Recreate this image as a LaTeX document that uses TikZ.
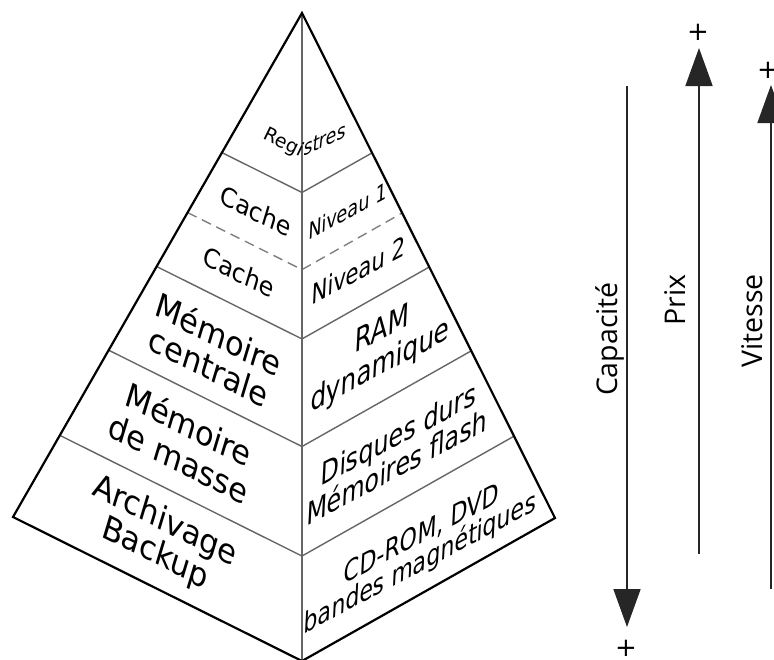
\documentclass[tikz,border=0pt]{standalone}
\usepackage{fontspec}
\setmainfont{DejaVu Sans}
\newfontfamily\osans{Open Sans}
\usetikzlibrary{calc,arrows.meta}
\begin{document}
\begin{tikzpicture}[x=1pt,y=1pt,
  edge/.style={line width=2.2pt, black, line join=miter},
  innerline/.style={line width=1.4pt, black!60},
  dashline/.style={line width=1.4pt, black!50, dash pattern=on 10pt off 6pt},
  lface/.style={rotate=-27, xslant=-0.18, inner sep=0pt, align=center},
  rface/.style={rotate=28, xslant=0.6, inner sep=0pt, align=center},
  axisline/.style={line width=1.8pt, black!85},
  headtip/.style={-{Triangle[length=38pt,width=27pt]}},
  axlabel/.style={rotate=90, anchor=base, inner sep=0pt, font=\osans\fontsize{28.5}{30}\selectfont},
  plussign/.style={font=\fontsize{26}{26}\selectfont, inner sep=0pt}
]
\useasboundingbox (0,0) rectangle (774,-659);
\fill[white] (0,0) rectangle (774,-659);

% pyramid corners
\coordinate (A) at (302,-13);
\coordinate (L) at (13,-517);
\coordinate (R) at (555,-518);
\coordinate (B) at (302,-661);

% boundaries
\foreach \t/\n in {0.277/1, 0.503/3, 0.669/4, 0.838/5}{
  \coordinate (l\n) at ($(A)!\t!(L)$);
  \coordinate (m\n) at ($(A)!\t!(B)$);
  \coordinate (r\n) at ($(A)!\t!(R)$);
  \draw[innerline] (l\n) -- (m\n) -- (r\n);
}
\coordinate (l2) at ($(A)!0.396!(L)$);
\coordinate (m2) at ($(A)!0.396!(B)$);
\coordinate (r2) at ($(A)!0.396!(R)$);
\draw[dashline] (l2) -- (m2) -- (r2);
\draw[innerline] (A) -- (B);
\draw[edge] (A) -- (L) -- (B) -- (R) -- cycle;

% left face
\node[rotate=-26, anchor=base east, inner sep=0pt, font=\fontsize{19}{20}\selectfont] (reg1) at (300,-157) {Regi};
\node[lface, font=\fontsize{25}{27}\selectfont] (cache1) at (256,-211) {Cache};
\node[lface, font=\fontsize{25}{27}\selectfont] (cache2) at (239,-272) {Cache};
\node[lface, font=\fontsize{32}{33}\selectfont] (memc) at (214,-350) {Mémoire\\centrale};
\node[lface, font=\fontsize{32}{35}\selectfont] (memm) at (184,-441) {Mémoire\\de masse};
\node[lface, font=\fontsize{32}{33}\selectfont] (arch) at (160,-538) {Archivage\\Backup};

% right face
\node[rotate=25, xslant=0.6, anchor=base west, inner sep=0pt, font=\fontsize{19}{20}\selectfont] (reg2) at (303,-157) {stres};
\node[rface, font=\fontsize{20}{22}\selectfont] (niv1) at (348,-211) {Niveau 1};
\node[rface, font=\fontsize{24}{26}\selectfont] (niv2) at (359,-270) {Niveau 2};
\node[rface, font=\fontsize{28}{31}\selectfont] (ram) at (381,-349) {RAM\\dynamique};
\node[rface, font=\fontsize{27}{26}\selectfont] (disq) at (398,-450) {Disques durs\\Mémoires flash};
\node[rface, font=\fontsize{25}{25}\selectfont] (cdrom) at (421,-550) {CD-ROM, DVD\\bandes magnétiques};

% axes
\coordinate (capT) at (627,-86);
\coordinate (capB) at (627,-627);
\coordinate (prixB) at (699,-554);
\coordinate (prixT) at (699,-48);
\coordinate (vitB) at (771,-589);
\coordinate (vitT) at (771,-85);
\draw[axisline, headtip] (capT) -- (capB);
\draw[axisline, headtip] (prixB) -- (prixT);
\draw[axisline, headtip] (vitB) -- (vitT);

\node[axlabel] (cap) at (617,-339) {Capacité};
\node[axlabel] (prix) at (685,-300) {Prix};
\node[axlabel] (vit) at (762,-321) {Vitesse};

\node[plussign] (pcap) at (626,-648) {+};
\node[plussign] (pprix) at (698,-32) {+};
\node[plussign] (pvit) at (768,-70) {+};
\end{tikzpicture}
\end{document}
